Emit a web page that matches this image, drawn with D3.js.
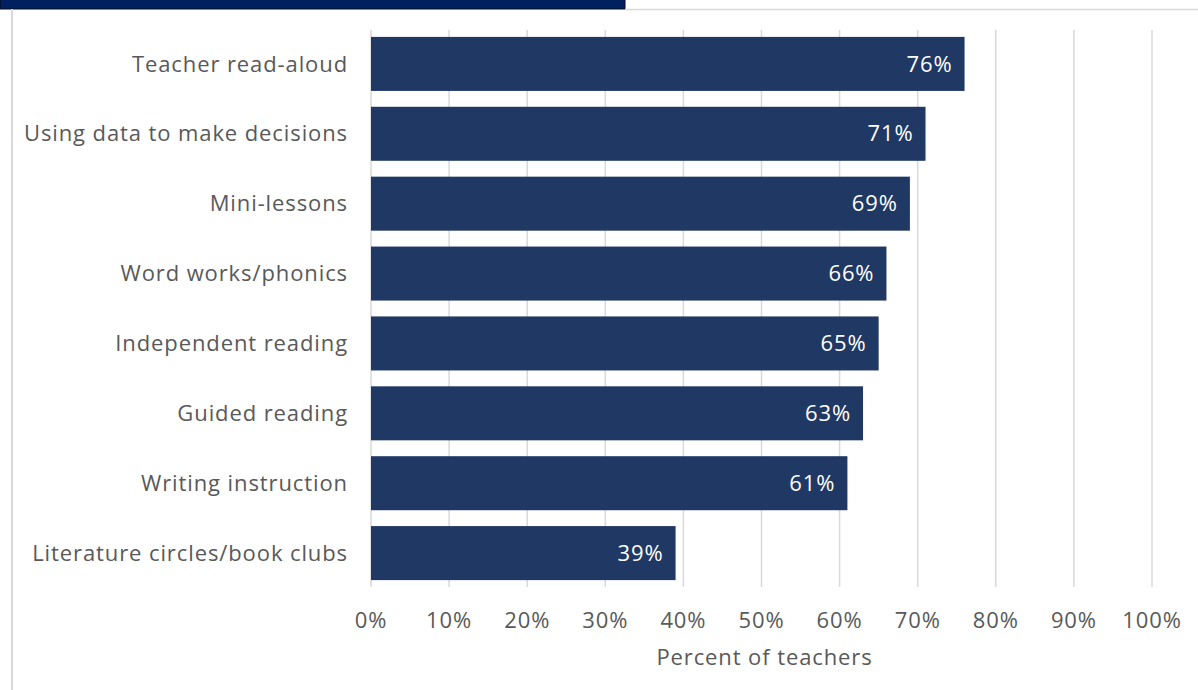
<!DOCTYPE html>
<html>
<head>
<meta charset="utf-8">
<script src="https://cdn.jsdelivr.net/npm/d3@7"></script>
<style>
  body { margin: 0; background: #fff; }
  text { font-family: "Open Sans", sans-serif; font-size: 22px; letter-spacing: 0.9px; }
</style>
</head>
<body>
<div id="chart"></div>
<script>
// Chart data.
var categories = ['Teacher read-aloud', 'Using data to make decisions', 'Mini-lessons',
    'Word works/phonics', 'Independent reading', 'Guided reading',
    'Writing instruction', 'Literature circles/book clubs'];
var values = [76, 71, 69, 66, 65, 63, 61, 39];
var tickValues = [0, 10, 20, 30, 40, 50, 60, 70, 80, 90, 100];
var axisTitle = 'Percent of teachers';

var WIDTH = 1198, HEIGHT = 690;
var BAR_COLOR = '#203864';
var TEXT_COLOR = '#595959';
var GRID_COLOR = '#d9d9d9';

var svg = d3.select('#chart').append('svg')
    .attr('width', WIDTH)
    .attr('height', HEIGHT);

// Frame bits: navy header tab, thin rule and left border.
svg.append('rect')
    .attr('x', 0).attr('y', -1)
    .attr('width', 625).attr('height', 10)
    .style('fill', '#002060')
    .style('stroke', '#0a0a1a')
    .style('stroke-width', 1);
svg.append('line')
    .attr('x1', 625).attr('y1', 9.5).attr('x2', WIDTH).attr('y2', 9.5)
    .style('stroke', '#d9d9d9').style('stroke-width', 1.5);
svg.append('line')
    .attr('x1', 12).attr('y1', 9).attr('x2', 12).attr('y2', HEIGHT)
    .style('stroke', '#d9d9d9').style('stroke-width', 2);

var x = d3.scaleLinear().domain([0, 100]).range([371, 1152]);
var y = d3.scaleBand().domain(categories).range([29, 588]).paddingInner(0.227).paddingOuter(0.113);

// Gridlines.
svg.selectAll('line.grid').data(tickValues).enter().append('line')
    .classed('grid', true)
    .attr('x1', function(d) { return x(d); })
    .attr('x2', function(d) { return x(d); })
    .attr('y1', 30)
    .attr('y2', 587)
    .style('stroke', GRID_COLOR)
    .style('stroke-width', 1.5);

// Bars.
svg.selectAll('rect.bar').data(values).enter().append('rect')
    .classed('bar', true)
    .attr('x', x(0))
    .attr('y', function(d, i) { return y(categories[i]); })
    .attr('width', function(d) { return x(d) - x(0); })
    .attr('height', y.bandwidth())
    .style('fill', BAR_COLOR);

// Value labels inside bars.
svg.selectAll('text.value').data(values).enter().append('text')
    .classed('value', true)
    .attr('x', function(d) { return x(d) - 12; })
    .attr('y', function(d, i) { return y(categories[i]) + y.bandwidth() / 2; })
    .attr('dy', '0.35em')
    .attr('text-anchor', 'end')
    .style('fill', '#fff')
    .text(function(d) { return d + '%'; });

// Category labels.
svg.selectAll('text.cat').data(categories).enter().append('text')
    .classed('cat', true)
    .attr('x', 348)
    .attr('y', function(d) { return y(d) + y.bandwidth() / 2; })
    .attr('dy', '0.35em')
    .attr('text-anchor', 'end')
    .style('fill', TEXT_COLOR)
    .text(function(d) { return d; });

// X axis tick labels.
svg.selectAll('text.tick').data(tickValues).enter().append('text')
    .classed('tick', true)
    .attr('x', function(d) { return x(d); })
    .attr('y', 628)
    .attr('text-anchor', 'middle')
    .style('fill', TEXT_COLOR)
    .text(function(d) { return d + '%'; });

svg.append('text')
    .attr('x', (x(0) + x(100)) / 2 + 3)
    .attr('y', 665)
    .attr('text-anchor', 'middle')
    .style('fill', TEXT_COLOR)
    .text(axisTitle);
</script>
</body>
</html>
